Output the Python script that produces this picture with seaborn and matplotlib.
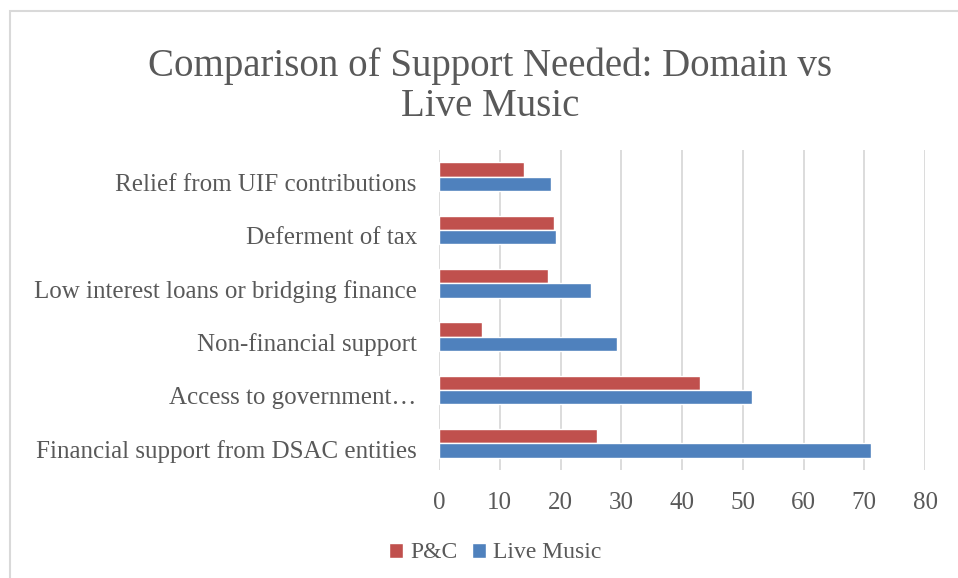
import seaborn as sns
from matplotlib import pyplot as plt
from matplotlib import transforms
from matplotlib.patches import Rectangle
import pandas as pd

categories = [
    "Relief from UIF contributions",
    "Deferment of tax",
    "Low interest loans or bridging finance",
    "Non-financial support",
    "Access to government\u2026",
    "Financial support from DSAC entities",
]
pc_values = [14, 19, 18, 7, 43, 26]
live_music_values = [18.4, 19.2, 25.0, 29.3, 51.5, 71.1]
series = ["P&C", "Live Music"]
colors = ["#C0504D", "#4F81BD"]

df = pd.DataFrame({
    "category": categories * 2,
    "value": pc_values + live_music_values,
    "series": [series[0]] * len(categories) + [series[1]] * len(categories),
})

sns.set_style("white")
plt.rcParams["font.family"] = ["Liberation Serif", "DejaVu Serif"]
text_color = "#595959"

fig = plt.figure(figsize=(9.58, 5.78), dpi=100)
ax = fig.add_axes([439 / 958, 1 - 470 / 578, (925 - 439) / 958, (470 - 150) / 578])

sns.barplot(
    data=df,
    x="value",
    y="category",
    hue="series",
    hue_order=series,
    order=categories,
    palette=colors,
    width=0.54,
    orient="h",
    saturation=1,
    ax=ax,
)

ax.set_xlim(0, 80)
ax.set_xticks(range(0, 81, 10))
ax.grid(axis="x", color="#D9D9D9", linewidth=1.3)
ax.set_axisbelow(True)
for s in ax.spines.values():
    s.set_visible(False)
ax.tick_params(axis="x", length=0, pad=16, labelsize=18, labelcolor=text_color)
ax.tick_params(axis="y", length=0, pad=16, labelsize=18, labelcolor=text_color)
# labels sit a little below the bar pair centre, as in the original
shift = transforms.ScaledTranslation(0, -4 / 72, fig.dpi_scale_trans)
for lbl in ax.get_yticklabels():
    lbl.set_transform(lbl.get_transform() + shift)
ax.set_xlabel("")
ax.set_ylabel("")

ax.legend(
    loc="center",
    bbox_to_anchor=(495 / 958, 1 - 553 / 578),
    bbox_transform=fig.transFigure,
    ncol=2,
    frameon=False,
    fontsize=17,
    labelcolor=text_color,
    handlelength=0.6,
    handleheight=0.6,
    handletextpad=0.3,
    columnspacing=0.6,
)

fig.text(490 / 958, 1 - 86 / 578, "Comparison of Support Needed: Domain vs\nLive Music",
         ha="center", va="center", fontsize=28, color=text_color, linespacing=1.1)

fig.patches.append(Rectangle((10 / 958, -0.1), 1.2, 1 - 11 / 578 + 0.1,
                             transform=fig.transFigure, fill=False,
                             edgecolor="#D9D9D9", linewidth=1.5))

fig.savefig("out.png", dpi=100)
